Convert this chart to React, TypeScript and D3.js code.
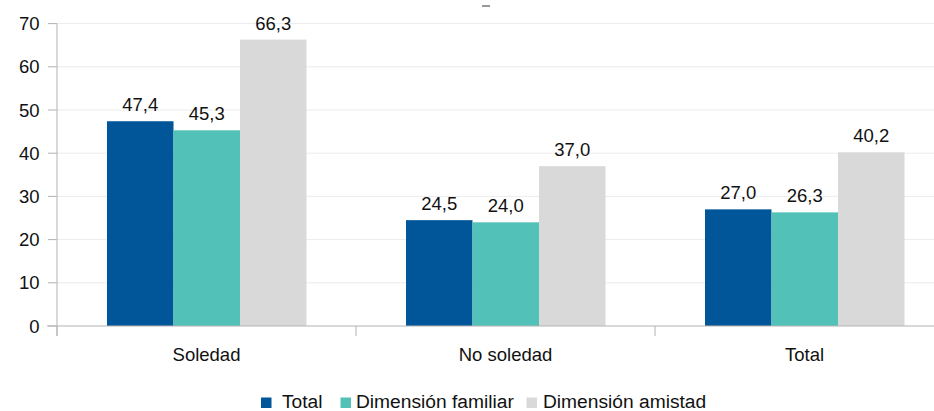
import React from "react";
import * as d3 from "d3";

const categories = ["Soledad", "No soledad", "Total"];
const seriesNames = ["Total", "Dimensión familiar", "Dimensión amistad"];
const totalValues = [47.4, 24.5, 27.0];
const familiarValues = [45.3, 24.0, 26.3];
const amistadValues = [66.3, 37.0, 40.2];
const yTicks = [0, 10, 20, 30, 40, 50, 60, 70];
const colors = ["#005699", "#52c2b8", "#d9d9d9"];

const W = 934;
const H = 411;
const plotLeft = 57;
const plotRight = 954;
const plotTop = 23.6;
const plotBottom = 326;
const FONT = "'Liberation Sans', Arial, sans-serif";
const FS = 18.5;
const LEGEND_FS = 19.2;

const fmt = (v: number) => v.toFixed(1).replace(".", ",");

export default function App() {
  const series = [totalValues, familiarValues, amistadValues];
  const x = d3.scaleBand<string>().domain(categories).range([plotLeft, plotRight]);
  const xs = d3
    .scaleBand<string>()
    .domain(seriesNames)
    .range([50, x.bandwidth() - 49.5]);
  const y = d3.scaleLinear().domain([0, 70]).range([plotBottom, plotTop]);

  const legendItems = [
    { name: seriesNames[0], sx: 261, tx: 282 },
    { name: seriesNames[1], sx: 340.5, tx: 356 },
    { name: seriesNames[2], sx: 526.5, tx: 543 },
  ];

  return (
    <svg
      width={W}
      height={H}
      style={{ position: "absolute", left: 0, top: 0, background: "#fff" }}
      fontFamily={FONT}
    >
      {/* gridlines */}
      {yTicks.slice(1).map((t) => (
        <line key={t} x1={plotLeft} x2={plotRight} y1={y(t)} y2={y(t)} stroke="#ececec" strokeWidth={1} />
      ))}
      {/* bars */}
      {categories.map((c, ci) =>
        seriesNames.map((s, si) => {
          const v = series[si][ci];
          const bx = (x(c) as number) + (xs(s) as number);
          return (
            <g key={c + s}>
              <rect x={bx} y={y(v)} width={xs.bandwidth()} height={plotBottom - y(v)} fill={colors[si]} />
              <text
                x={bx + xs.bandwidth() / 2}
                y={y(v) - 10}
                textAnchor="middle"
                fontSize={FS}
                fill="#111"
              >
                {fmt(v)}
              </text>
            </g>
          );
        })
      )}
      {/* y axis */}
      <line x1={plotLeft} x2={plotLeft} y1={plotTop} y2={plotBottom + 10} stroke="#b3b3b3" />
      {yTicks.map((t) => (
        <g key={t}>
          <line x1={plotLeft - 9} x2={plotLeft} y1={y(t)} y2={y(t)} stroke="#b3b3b3" />
          <text x={39.5} y={y(t) + 6.5} textAnchor="end" fontSize={FS} fill="#111">
            {t}
          </text>
        </g>
      ))}
      {/* x axis */}
      <line x1={plotLeft - 10} x2={plotRight} y1={plotBottom} y2={plotBottom} stroke="#b3b3b3" />
      {categories.map((c) => (
        <g key={c}>
          <line x1={x(c)} x2={x(c)} y1={plotBottom} y2={plotBottom + 10} stroke="#b3b3b3" />
          <text
            x={(x(c) as number) + x.bandwidth() / 2}
            y={361}
            textAnchor="middle"
            fontSize={FS}
            fill="#111"
          >
            {c}
          </text>
        </g>
      ))}
      {/* legend */}
      {legendItems.map((it, i) => (
        <g key={it.name}>
          <rect x={it.sx} y={397.5} width={10.5} height={10.5} fill={colors[i]} />
          <text x={it.tx} y={407.5} fontSize={LEGEND_FS} fill="#111">
            {it.name}
          </text>
        </g>
      ))}
      <line x1={482} x2={490} y1={6} y2={6} stroke="#777" strokeWidth={1.5} />
    </svg>
  );
}
